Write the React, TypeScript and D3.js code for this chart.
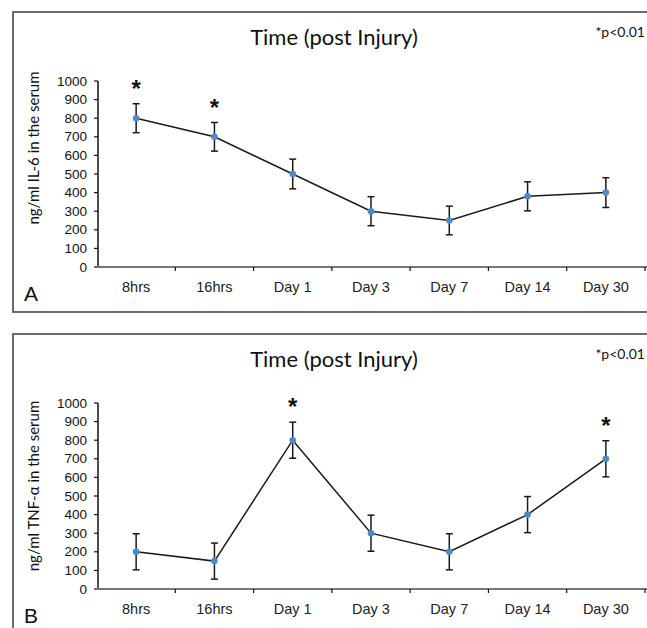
import React from "react";
import * as d3 from "d3";

const categories = ["8hrs", "16hrs", "Day 1", "Day 3", "Day 7", "Day 14", "Day 30"];
const yTicks = [0, 100, 200, 300, 400, 500, 600, 700, 800, 900, 1000];

const il6Values = [800, 700, 500, 300, 250, 380, 400];
const il6Errors = [78, 77, 80, 78, 77, 78, 80];
const il6Significant = ["8hrs", "16hrs"];

const tnfValues = [200, 150, 800, 300, 200, 400, 700];
const tnfErrors = [97, 97, 97, 97, 97, 97, 97];
const tnfSignificant = ["Day 1", "Day 30"];

const panelTitle = "Time (post Injury)";
const pNote = "*p<0.01";

type PanelProps = {
  offsetY: number;
  letter: string;
  yLabel: string;
  yLabelCenter: number;
  values: number[];
  errors: number[];
  significant: string[];
};

const W = 647;
const H = 628;

function Panel({ offsetY, letter, yLabel, yLabelCenter, values, errors, significant }: PanelProps) {
  const x = d3.scaleBand<string>().domain(categories).range([97, 645]).padding(0);
  const y = d3.scaleLinear().domain([0, 1000]).range([267, 81]);
  const cx = (c: string) => (x(c) as number) + x.bandwidth() / 2;
  const line = d3
    .line<number>()
    .x((_, i) => cx(categories[i]))
    .y((v) => y(v));
  const boundaries = categories.map((c) => (x(c) as number) + x.bandwidth());
  const sans = "'Liberation Sans', Arial, sans-serif";
  const calibri = "Lato, 'Open Sans', sans-serif";
  return (
    <g transform={`translate(0,${offsetY})`}>
      <rect x={13} y={12} width={700} height={300} fill="#fff" stroke="#6b6b6b" strokeWidth={2} />
      <text x={334} y={36} textAnchor="middle" dominantBaseline="central" fontFamily={calibri} fontSize={22} fill="#111">
        {panelTitle}
      </text>
      <text x={645} y={31} textAnchor="end" dominantBaseline="central" fontFamily={calibri} fontSize={14} fill="#111">
        {pNote}
      </text>
      <text
        transform={`translate(33,${yLabelCenter}) rotate(-90)`}
        textAnchor="middle"
        dominantBaseline="central"
        fontFamily={calibri}
        fontSize={15}
        fill="#111"
      >
        {yLabel}
      </text>
      {/* y axis */}
      <line x1={98} x2={98} y1={y(1000)} y2={y(0)} stroke="#111" strokeWidth={1.5} />
      {yTicks.map((t) => (
        <g key={t}>
          <line x1={94} x2={98} y1={y(t)} y2={y(t)} stroke="#111" strokeWidth={1.2} />
          <text x={87} y={y(t)} textAnchor="end" dominantBaseline="central" fontFamily={sans} fontSize={13.5} fill="#111">
            {t}
          </text>
        </g>
      ))}
      {/* x axis */}
      <line x1={97} x2={647} y1={y(0)} y2={y(0)} stroke="#777" strokeWidth={2} />
      {boundaries.map((b, i) => (
        <line key={i} x1={b} x2={b} y1={y(0)} y2={y(0) + 4} stroke="#111" strokeWidth={1.2} />
      ))}
      {categories.map((c) => (
        <text key={c} x={cx(c)} y={287} textAnchor="middle" dominantBaseline="central" fontFamily={sans} fontSize={14.5} fill="#222">
          {c}
        </text>
      ))}
      <text x={24} y={301} fontFamily={sans} fontSize={21} fill="#111">
        {letter}
      </text>
      {/* line */}
      <path d={line(values) || ""} fill="none" stroke="#1a1a1a" strokeWidth={1.5} />
      {/* error bars */}
      {values.map((v, i) => {
        const px = cx(categories[i]);
        const e = errors[i];
        return (
          <g key={i} stroke="#1a1a1a" strokeWidth={1.5}>
            <line x1={px} x2={px} y1={y(v + e)} y2={y(v - e)} />
            <line x1={px - 3.5} x2={px + 3.5} y1={y(v + e)} y2={y(v + e)} />
            <line x1={px - 3.5} x2={px + 3.5} y1={y(v - e)} y2={y(v - e)} />
          </g>
        );
      })}
      {values.map((v, i) => (
        <circle key={i} cx={cx(categories[i])} cy={y(v)} r={3.3} fill="#4a8bd0" />
      ))}
      {values.map((v, i) =>
        significant.includes(categories[i]) ? (
          <text
            key={i}
            x={cx(categories[i])}
            y={y(v + errors[i] + 90) + 10}
            textAnchor="middle"
            fontFamily={sans}
            fontWeight="bold"
            fontSize={24}
            fill="#111"
          >
            *
          </text>
        ) : null
      )}
    </g>
  );
}

export default function App() {
  return (
    <svg width={W} height={H} style={{ position: "absolute", left: 0, top: 0, background: "#fff" }}>
      <rect x={0} y={0} width={W} height={H} fill="#fff" />
      <Panel
        offsetY={0}
        letter="A"
        yLabel="ng/ml IL-6 in the serum"
        yLabelCenter={148}
        values={il6Values}
        errors={il6Errors}
        significant={il6Significant}
      />
      <Panel
        offsetY={322}
        letter="B"
        yLabel="ng/ml TNF-α in the serum"
        yLabelCenter={164}
        values={tnfValues}
        errors={tnfErrors}
        significant={tnfSignificant}
      />
    </svg>
  );
}
